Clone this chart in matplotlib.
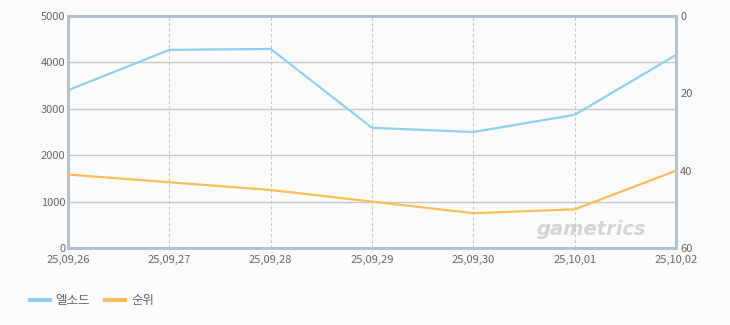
import matplotlib.pyplot as plt

plt.rcParams['font.family'] = ['Noto Sans CJK KR', 'DejaVu Sans']

dates = ["25,09,26", "25,09,27", "25,09,28", "25,09,29", "25,09,30", "25,10,01", "25,10,02"]
users = [3400, 4270, 4290, 2590, 2500, 2870, 4160]
rank = [41, 43, 45, 48, 51, 50, 40]

blue = "#8fd0f2"
orange = "#fbbd5a"
txt = "#666666"

fig = plt.figure(figsize=(7.3, 3.25), dpi=100, facecolor="#fcfcfc")
ax = fig.add_axes([68 / 730, 77 / 325, 608 / 730, 232 / 325])
ax.set_facecolor("#fcfcfc")
x = list(range(len(dates)))

ax.plot(x, users, color=blue, lw=1.6, zorder=3)
ax.set_xlim(0, len(dates) - 1)
ax.set_ylim(0, 5000)
ax.set_yticks([0, 1000, 2000, 3000, 4000, 5000])
ax.set_xticks(x)
ax.set_xticklabels(dates)
ax.yaxis.grid(True, color="#c8c8c8", lw=1)
ax.xaxis.grid(True, color="#c8c8c8", lw=0.8, ls=(0, (3, 2)))
ax.tick_params(axis="y", length=0, labelsize=8, colors=txt, pad=2)
ax.tick_params(axis="x", length=0, labelsize=8, colors=txt, pad=5)

ax2 = ax.twinx()
ax2.plot(x, rank, color=orange, lw=1.6, zorder=3)
ax2.set_ylim(60, 0)
ax2.set_yticks([0, 20, 40, 60])
ax2.tick_params(length=0, labelsize=8, colors=txt, pad=3)

for a in (ax, ax2):
    for s in a.spines.values():
        s.set_color("#b0c2d6")
        s.set_linewidth(2)

ax.text(0.86, 0.08, "gametrics", transform=ax.transAxes, ha="center", va="center",
        fontsize=14, fontweight="bold", style="italic", color="#d4d4d4",
        family="DejaVu Sans", zorder=1)

fig.legend(handles=[plt.Line2D([], [], color=blue, lw=3), plt.Line2D([], [], color=orange, lw=3)],
           labels=["엘소드", "순위"], loc="lower left", bbox_to_anchor=(0.025, 0.02),
           ncol=2, frameon=False, fontsize=9, labelcolor=txt, handlelength=1.6,
           handletextpad=0.5, columnspacing=1.2)

fig.savefig("out.png", dpi=100, facecolor=fig.get_facecolor())
